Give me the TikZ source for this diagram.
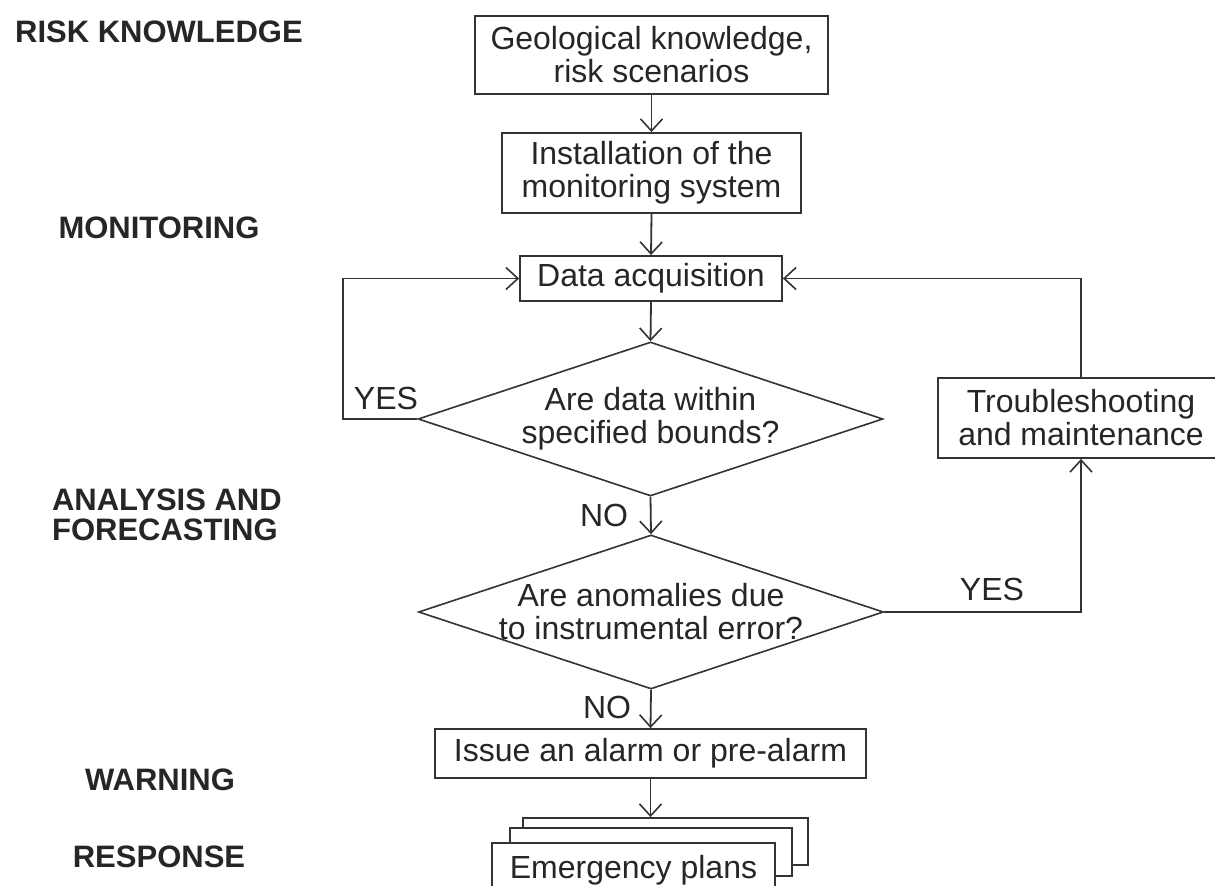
\documentclass[tikz,border=0pt]{standalone}
\usepackage{fontspec}
\setmainfont{Liberation Sans}
\usetikzlibrary{shapes.geometric,arrows.meta}
\definecolor{ink}{HTML}{262626}
\definecolor{wire}{HTML}{333333}
\tikzset{
  every node/.style={text=ink},
  body/.style={font=\fontsize{16}{16.5}\selectfont, align=center},
  stage/.style={font=\fontsize{15.5}{15}\selectfont\bfseries, align=left},
  flag/.style={font=\fontsize{16}{16}\selectfont},
  stepbox/.style={body, draw=wire, line width=0.9pt, fill=white, rectangle, inner sep=0pt},
  decision/.style={body, draw=wire, line width=0.8pt, diamond, aspect=3, inner sep=-4pt},
  flow/.style={draw=wire, line width=0.9pt, -{Straight Barb[length=6pt,width=11pt,line width=0.8pt]}},
}
\begin{document}
\begin{tikzpicture}[x=0.5pt, y=-0.5pt]
\useasboundingbox (0,0) rectangle (1215,886);
\clip (0,0) rectangle (1215,886);

% stage labels on the left
\node[stage, anchor=center] (rk)   at (159,32)  {RISK KNOWLEDGE};
\node[stage, anchor=center] (mon)  at (159,228) {MONITORING};
\node[stage, anchor=west]   (anf)  at (45,515)  {ANALYSIS AND\\FORECASTING};
\node[stage, anchor=center] (warn) at (160,780) {WARNING};
\node[stage, anchor=center] (resp) at (159,857) {RESPONSE};

% process boxes
\node[stepbox, minimum width=176.5pt, minimum height=39pt] (geo)  at (651.5,55)
  {Geological knowledge,\\risk scenarios};
\node[stepbox, minimum width=149.5pt, minimum height=40pt] (inst) at (651.5,173)
  {Installation of the\\monitoring system};
\node[stepbox, minimum width=131pt, minimum height=22.5pt] (data) at (651,278.5)
  {Data acquisition};
\node[decision, minimum width=232.5pt, minimum height=77pt] (d1) at (650.5,419)
  {Are data within\\specified bounds?};
\node[decision, minimum width=232.5pt, minimum height=77pt] (d2) at (651,612)
  {Are anomalies due\\to instrumental error?};
\node[stepbox, minimum width=143pt, minimum height=40pt] (fix) at (1081,418)
  {Troubleshooting\\and maintenance};
\node[stepbox, minimum width=215.5pt, minimum height=24.5pt] (issue) at (650.5,753.5)
  {Issue an alarm or pre-alarm};

% stacked emergency plan sheets
\node[stepbox, minimum width=142.5pt, minimum height=23.5pt] (planc) at (665.5,841.5) {};
\node[stepbox, minimum width=141pt, minimum height=24pt] (planb) at (651,852) {};
\node[stepbox, minimum width=141.5pt, minimum height=27.5pt] (plana) at (633.5,870.5)
  {Emergency plans};

% branch labels
\node[flag] (yesl) at (386,398) {YES};
\node[flag] (no1)  at (604,515) {NO};
\node[flag] (yesr) at (992,589) {YES};
\node[flag] (no2)  at (607,707) {NO};

% main flow
\draw[flow] (geo.south) -- (inst.north);
\draw[flow] (inst.south) -- (data.north);
\draw[flow] (data.south) -- (d1.north);
\draw[flow] (d1.south) -- (d2.north);
\draw[flow] (d2.south) -- (issue.north);
\draw[flow] (issue.south) -- (issue.south |- planc.north);

% loop back when data are within bounds
\coordinate (loopl) at (343,0);
\draw[flow] (d1.west) -- (loopl |- d1.west) -- (loopl |- data.west) -- (data.west);

% instrumental error branch
\draw[flow] (d2.east) -| (fix.south);
\draw[flow] (fix.north) |- (data.east);
\end{tikzpicture}
\end{document}
